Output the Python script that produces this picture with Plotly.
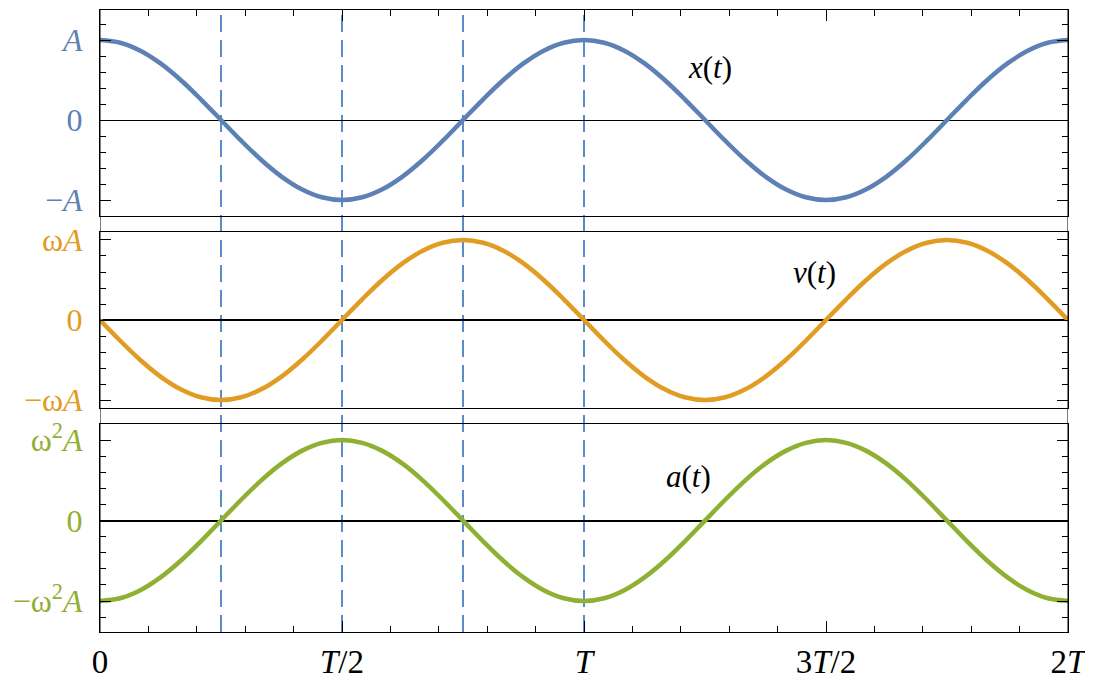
import plotly.graph_objects as go

# time in units of the period T, sampled every T/24
t_vals = [0, 0.0417, 0.0833, 0.125, 0.1667, 0.2083, 0.25, 0.2917, 0.3333, 0.375, 0.4167, 0.4583,
          0.5, 0.5417, 0.5833, 0.625, 0.6667, 0.7083, 0.75, 0.7917, 0.8333, 0.875, 0.9167, 0.9583,
          1.0, 1.0417, 1.0833, 1.125, 1.1667, 1.2083, 1.25, 1.2917, 1.3333, 1.375, 1.4167, 1.4583,
          1.5, 1.5417, 1.5833, 1.625, 1.6667, 1.7083, 1.75, 1.7917, 1.8333, 1.875, 1.9167, 1.9583, 2.0]
# x(t) in units of A
x_vals = [1, 0.966, 0.866, 0.707, 0.5, 0.259, 0, -0.259, -0.5, -0.707, -0.866, -0.966,
          -1, -0.966, -0.866, -0.707, -0.5, -0.259, 0, 0.259, 0.5, 0.707, 0.866, 0.966,
          1, 0.966, 0.866, 0.707, 0.5, 0.259, 0, -0.259, -0.5, -0.707, -0.866, -0.966,
          -1, -0.966, -0.866, -0.707, -0.5, -0.259, 0, 0.259, 0.5, 0.707, 0.866, 0.966, 1]
# v(t) in units of wA
v_vals = [0, -0.259, -0.5, -0.707, -0.866, -0.966, -1, -0.966, -0.866, -0.707, -0.5, -0.259,
          0, 0.259, 0.5, 0.707, 0.866, 0.966, 1, 0.966, 0.866, 0.707, 0.5, 0.259,
          0, -0.259, -0.5, -0.707, -0.866, -0.966, -1, -0.966, -0.866, -0.707, -0.5, -0.259,
          0, 0.259, 0.5, 0.707, 0.866, 0.966, 1, 0.966, 0.866, 0.707, 0.5, 0.259, 0]
# a(t) in units of w^2 A
a_vals = [-1, -0.966, -0.866, -0.707, -0.5, -0.259, 0, 0.259, 0.5, 0.707, 0.866, 0.966,
          1, 0.966, 0.866, 0.707, 0.5, 0.259, 0, -0.259, -0.5, -0.707, -0.866, -0.966,
          -1, -0.966, -0.866, -0.707, -0.5, -0.259, 0, 0.259, 0.5, 0.707, 0.866, 0.966,
          1, 0.966, 0.866, 0.707, 0.5, 0.259, 0, -0.259, -0.5, -0.707, -0.866, -0.966, -1]

dashed_t = [0.25, 0.5, 0.75, 1.0]
x_tickvals = [0, 0.5, 1, 1.5, 2]
x_ticktext = ["0", "<i>T</i>/2", "<i>T</i>", "3<i>T</i>/2", "2<i>T</i>"]
y_tickvals = [-1, 0, 1]
x_ticktext_y = ["\u2212<i>A</i>", "0", "<i>A</i>"]
v_ticktext_y = ["\u2212ω<i>A</i>", "0", "ω<i>A</i>"]
a_ticktext_y = ["\u2212ω<sup>2</sup><i>A</i>", "0", "ω<sup>2</sup><i>A</i>"]

BLUE = "#5e81b5"
ORANGE = "#e19c24"
GREEN = "#8fb032"
DASH = "#5b8bc9"
FONT = "Liberation Serif"

fig = go.Figure()
fig.add_trace(go.Scatter(x=t_vals, y=x_vals, xaxis="x2", yaxis="y", mode="lines",
                         line=dict(color=BLUE, width=4.5, shape="spline")))
fig.add_trace(go.Scatter(x=t_vals, y=v_vals, xaxis="x3", yaxis="y2", mode="lines",
                         line=dict(color=ORANGE, width=4.5, shape="spline")))
fig.add_trace(go.Scatter(x=t_vals, y=a_vals, xaxis="x", yaxis="y3", mode="lines",
                         line=dict(color=GREEN, width=4.5, shape="spline")))


def yax(domain, rng, text, color, zw, anchor):
    return dict(domain=domain, range=rng, anchor=anchor, tickvals=y_tickvals, ticktext=text,
                tickfont=dict(family=FONT, size=32, color=color),
                ticks="inside", ticklen=11, tickcolor="black", tickwidth=1,
                minor=dict(ticks="inside", ticklen=6, dtick=0.2, tick0=0, tickcolor="black"),
                showline=True, linecolor="black", linewidth=1, mirror="ticks",
                showgrid=False, zeroline=True, zerolinecolor="black", zerolinewidth=zw,
                ticklabelstandoff=10)


xaxis_common = dict(range=[0, 2], tickvals=x_tickvals, ticks="inside", ticklen=11,
                    tickcolor="black", tickwidth=1, showgrid=False, zeroline=False,
                    minor=dict(ticks="inside", ticklen=6, dtick=0.1, tick0=0, tickcolor="black"),
                    showline=True, linecolor="black", linewidth=1, mirror=True)

# page body adds an 8px offset, so the figure is slightly smaller than the window
fig.update_layout(
    width=1085, height=682,
    margin=dict(l=92, r=25, t=2, b=58, autoexpand=False),
    paper_bgcolor="white", plot_bgcolor="white",
    showlegend=False,
    xaxis=dict(anchor="y3", ticktext=x_ticktext,
               tickfont=dict(family=FONT, size=33, color="black"), ticklabelstandoff=0,
               **xaxis_common),
    xaxis2=dict(anchor="y", side="top", matches="x", showticklabels=False, **xaxis_common),
    xaxis3=dict(anchor="y2", matches="x", range=[0, 2], showticklabels=False, ticks="",
                showgrid=False, zeroline=False, showline=True, linecolor="black",
                linewidth=1, mirror=True),
    yaxis=yax([0.6688, 1.0], [-1.2, 1.375], x_ticktext_y, BLUE, 1, "x2"),
    yaxis2=yax([0.3601, 0.6431], [-1.1, 1.1], v_ticktext_y, ORANGE, 2, "x3"),
    yaxis3=yax([0.0, 0.3344], [-1.385, 1.2], a_ticktext_y, GREEN, 2, "x"),
)

# outer vertical frame lines through the gaps between panels
for xv in [0, 2]:
    fig.add_shape(type="line", xref="x", yref="paper", x0=xv, x1=xv, y0=0, y1=1,
                  line=dict(color="black", width=1))
# dashed markers
for tv in dashed_t:
    fig.add_shape(type="line", xref="x", yref="paper", x0=tv, x1=tv, y0=0, y1=1,
                  line=dict(color=DASH, width=2, dash="17px,8px"), layer="below")

fig.add_annotation(x=1.26, y=0.66, xref="x2", yref="y", text="<i>x</i>(<i>t</i>)",
                   showarrow=False, font=dict(family=FONT, size=31, color="black"))
fig.add_annotation(x=1.477, y=0.59, xref="x3", yref="y2", text="<i>v</i>(<i>t</i>)",
                   showarrow=False, font=dict(family=FONT, size=31, color="black"))
fig.add_annotation(x=1.215, y=0.55, xref="x", yref="y3", text="<i>a</i>(<i>t</i>)",
                   showarrow=False, font=dict(family=FONT, size=31, color="black"))

fig.write_html("out.html")
